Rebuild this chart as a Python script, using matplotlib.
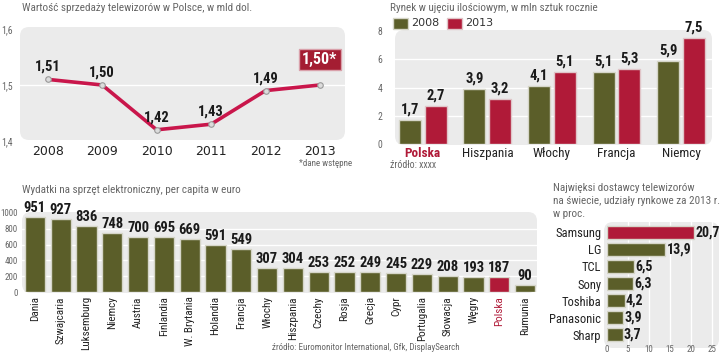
import numpy as np
import matplotlib.pyplot as plt
from matplotlib import font_manager
from matplotlib.patches import FancyBboxPatch
from matplotlib.transforms import IdentityTransform

# data
years = [2008, 2009, 2010, 2011, 2012, 2013]
sales = [1.51, 1.50, 1.42, 1.43, 1.49, 1.50]

market_cats = ["Polska", "Hiszpania", "Włochy", "Francja", "Niemcy"]
market_2008 = [1.7, 3.9, 4.1, 5.1, 5.9]
market_2013 = [2.7, 3.2, 5.1, 5.3, 7.5]

spend_cats = ["Dania", "Szwajcaria", "Luksemburg", "Niemcy", "Austria", "Finlandia",
              "W. Brytania", "Holandia", "Francja", "Włochy", "Hiszpania", "Czechy",
              "Rosja", "Grecja", "Cypr", "Portugalia", "Słowacja", "Węgry", "Polska", "Rumunia"]
spend_vals = [951, 927, 836, 748, 700, 695, 669, 591, 549, 307, 304, 253,
              252, 249, 245, 229, 208, 193, 187, 90]

brands = ["Samsung", "LG", "TCL", "Sony", "Toshiba", "Panasonic", "Sharp"]
shares = [20.7, 13.9, 6.5, 6.3, 4.2, 3.9, 3.7]

GREEN = "#5b5e29"
RED = "#b01a38"
LINE = "#c9164b"
BG = "#ebebeb"
GRAY = "#666666"

# pick a narrow font if one is installed
names = {f.name for f in font_manager.fontManager.ttflist}
NARROW = None
for cand in ["Liberation Sans Narrow", "Roboto Condensed", "Open Sans Condensed",
             "Noto Sans Condensed", "DejaVu Sans Condensed"]:
    if cand in names:
        NARROW = cand
        break
STRETCH = "normal"
if NARROW is None:
    NARROW = "DejaVu Sans"
    if any(f.name == "DejaVu Sans" and f.stretch == "condensed"
           for f in font_manager.fontManager.ttflist):
        STRETCH = "condensed"
NF = dict(family=NARROW, stretch=STRETCH)

W, H = 720, 353
fig = plt.figure(figsize=(W / 100, H / 100), dpi=100)
fig.patch.set_facecolor("white")


def px_axes(x0, y0, x1, y1):
    ax = fig.add_axes([x0 / W, 1 - y1 / H, (x1 - x0) / W, (y1 - y0) / H])
    ax.set_facecolor("none")
    for s in ax.spines.values():
        s.set_visible(False)
    ax.tick_params(length=0)
    return ax


def bg(x0, y0, x1, y1, r=9):
    p = FancyBboxPatch((x0, H - y1), x1 - x0, y1 - y0,
                       boxstyle="round,pad=0,rounding_size=%d" % r,
                       transform=IdentityTransform(), fc=BG, ec="none", zorder=-1)
    fig.add_artist(p)


def fmt(v, d=1):
    return ("%.*f" % (d, v)).replace(".", ",")


def label(x, y, s, **kw):
    fig.text(x / W, 1 - y / H, s, **kw)


def style_ticks(labels, **kw):
    for t in labels:
        t.set_fontfamily(NARROW)
        t.set_fontstretch(STRETCH)
        for k, v in kw.items():
            getattr(t, "set_" + k)(v)


# ---- panel 1: line chart
bg(20, 27, 345, 140)
ax1 = px_axes(20, 29, 345, 141)
ax1.plot(years, sales, color=LINE, lw=2.6, marker="o", ms=4,
         mfc="#dcdcdc", mec="#999999", mew=0.8, zorder=3)
ax1.set_xlim(2007.49, 2013.46)
ax1.set_ylim(1.4, 1.6)
ax1.set_yticks([1.4, 1.5, 1.6])
ax1.set_yticklabels(["1,4", "1,5", "1,6"])
style_ticks(ax1.get_yticklabels(), color=GRAY, fontsize=7)
ax1.yaxis.set_tick_params(pad=5)
ax1.axhline(1.5, color="white", lw=1, zorder=1)
ax1.set_xticks(years)
ax1.set_xticklabels([str(y) for y in years], fontsize=9, color="#222222")
ax1.xaxis.set_tick_params(pad=3)
for y, v in zip(years[:-1], sales[:-1]):
    ax1.annotate(fmt(v, 2), (y, v), xytext=(0, 4), textcoords="offset points",
                 ha="center", va="bottom", fontsize=10.5, fontweight="bold",
                 color="#1a1a1a", **NF)
ax1.annotate(fmt(sales[-1], 2) + "*", (years[-1], sales[-1]), xytext=(0, 13),
             textcoords="offset points", ha="center", va="bottom", fontsize=11.5,
             fontweight="bold", color="white", **NF,
             bbox=dict(boxstyle="square,pad=0.2", fc="#a41d32", ec="#d9a0aa", lw=1))
label(22, 8, "Wartość sprzedaży telewizorów w Polsce, w mld dol.", fontsize=8,
      color=GRAY, va="center", **NF)
label(352, 164, "*dane wstępne", fontsize=6.5, color=GRAY, ha="right", va="center", **NF)

# ---- panel 2: grouped bars
bg(395, 30, 712, 145)
ax2 = px_axes(395, 31, 712, 144)
xg = np.arange(len(market_cats))
ax2.bar(xg - 0.2, market_2008, width=0.34, color=GREEN, ec="#d5d5c8", lw=1, zorder=2)
ax2.bar(xg + 0.2, market_2013, width=0.34, color=RED, ec="#e0c5c8", lw=1, zorder=2)
for i in range(len(market_cats)):
    ax2.text(xg[i] - 0.2, market_2008[i] + 0.25, fmt(market_2008[i]), ha="center",
             va="bottom", fontsize=10.5, fontweight="bold", color="#1a1a1a", **NF)
    ax2.text(xg[i] + 0.2, market_2013[i] + 0.25, fmt(market_2013[i]), ha="center",
             va="bottom", fontsize=10.5, fontweight="bold", color="#1a1a1a", **NF)
ax2.set_xlim(-0.43, 4.48)
ax2.set_ylim(0, 8)
ax2.set_yticks([0, 2, 4, 6, 8])
ax2.set_yticklabels(["0", "2", "4", "6", "8"])
style_ticks(ax2.get_yticklabels(), color=GRAY, fontsize=7)
ax2.yaxis.set_tick_params(pad=9)
for g in [2, 4, 6]:
    ax2.axhline(g, color="white", lw=1, zorder=1)
ax2.set_xticks(xg)
ax2.set_xticklabels(market_cats)
style_ticks(ax2.get_xticklabels(), color="#222222", fontsize=9.5)
ax2.get_xticklabels()[0].set_color(RED)
ax2.get_xticklabels()[0].set_fontweight("bold")
ax2.xaxis.set_tick_params(pad=2)
label(390, 8, "Rynek w ujęciu ilościowym, w mln sztuk rocznie", fontsize=8,
      color=GRAY, va="center", **NF)
fig.add_artist(FancyBboxPatch((393, H - 29), 15, 11, boxstyle="square,pad=0",
                              transform=IdentityTransform(), fc=GREEN, ec="#d5d5c8"))
label(411, 23, "2008", fontsize=8, color="#333333", va="center")
fig.add_artist(FancyBboxPatch((447, H - 29), 15, 11, boxstyle="square,pad=0",
                              transform=IdentityTransform(), fc=RED, ec="#e0c5c8"))
label(465, 23, "2013", fontsize=8, color="#333333", va="center")
label(390, 165, "źródło: xxxx", fontsize=7, color=GRAY, va="center", **NF)

# ---- panel 3: spending per capita
bg(22, 212, 537, 293)
ax3 = px_axes(22, 213, 537, 292)
xs = np.arange(len(spend_cats))
cols = [RED if c == "Polska" else GREEN for c in spend_cats]
ax3.bar(xs, spend_vals, width=0.78, color=cols, ec="#d5d5c8", lw=1, zorder=2)
for i, v in enumerate(spend_vals):
    ax3.text(xs[i], v + 25, str(v), ha="center", va="bottom", fontsize=10.5,
             fontweight="bold", color="#1a1a1a", **NF)
ax3.set_xlim(-0.5, 19.46)
ax3.set_ylim(0, 1000)
ax3.set_yticks(range(0, 1001, 200))
ax3.set_yticklabels([str(t) for t in range(0, 1001, 200)])
style_ticks(ax3.get_yticklabels(), color=GRAY, fontsize=6.5)
ax3.yaxis.set_tick_params(pad=3)
for g in range(200, 1000, 200):
    ax3.axhline(g, color="white", lw=1, zorder=1)
ax3.set_xticks(xs)
ax3.set_xticklabels(spend_cats, rotation=90)
style_ticks(ax3.get_xticklabels(), color="#222222", fontsize=8)
ax3.get_xticklabels()[spend_cats.index("Polska")].set_color(RED)
ax3.xaxis.set_tick_params(pad=3)
label(22, 190, "Wydatki na sprzęt elektroniczny, per capita w euro", fontsize=8,
      color=GRAY, va="center", **NF)
label(460, 347, "źródło: Euromonitor International, Gfk, DisplaySearch", fontsize=6.5,
      color=GRAY, ha="right", va="center", **NF)

# ---- panel 4: brand shares
bg(604, 222, 719, 348)
ax4 = px_axes(607, 222, 718, 345)
yb = np.arange(len(brands))
bcols = [RED] + [GREEN] * (len(brands) - 1)
ax4.barh(yb, shares, height=0.75, color=bcols, ec="#d5d5c8", lw=1, zorder=2)
for i, v in enumerate(shares):
    ax4.text(v + 0.3, yb[i], fmt(v), ha="left", va="center", fontsize=10,
             fontweight="bold", color="#1a1a1a", **NF)
ax4.set_ylim(6.6, -0.6)
ax4.set_xlim(0, 26.4)
ax4.set_yticks(yb)
ax4.set_yticklabels(brands)
style_ticks(ax4.get_yticklabels(), color="#222222", fontsize=9)
ax4.yaxis.set_tick_params(pad=4)
ax4.set_xticks([0, 5, 10, 15, 20, 25])
ax4.set_xticklabels(["0", "5", "10", "15", "20", "25"])
style_ticks(ax4.get_xticklabels(), color=GRAY, fontsize=6.5)
ax4.xaxis.set_tick_params(pad=0)
for g in [5, 10, 15, 20, 25]:
    ax4.axvline(g, color="white", lw=1, zorder=1)
label(553, 188, "Najwięksi dostawcy telewizorów", fontsize=8, color=GRAY,
      va="center", **NF)
label(553, 201, "na świecie, udziały rynkowe za 2013 r.", fontsize=8, color=GRAY,
      va="center", **NF)
label(553, 214, "w proc.", fontsize=8, color=GRAY, va="center", **NF)

fig.savefig("out.png", dpi=100)
